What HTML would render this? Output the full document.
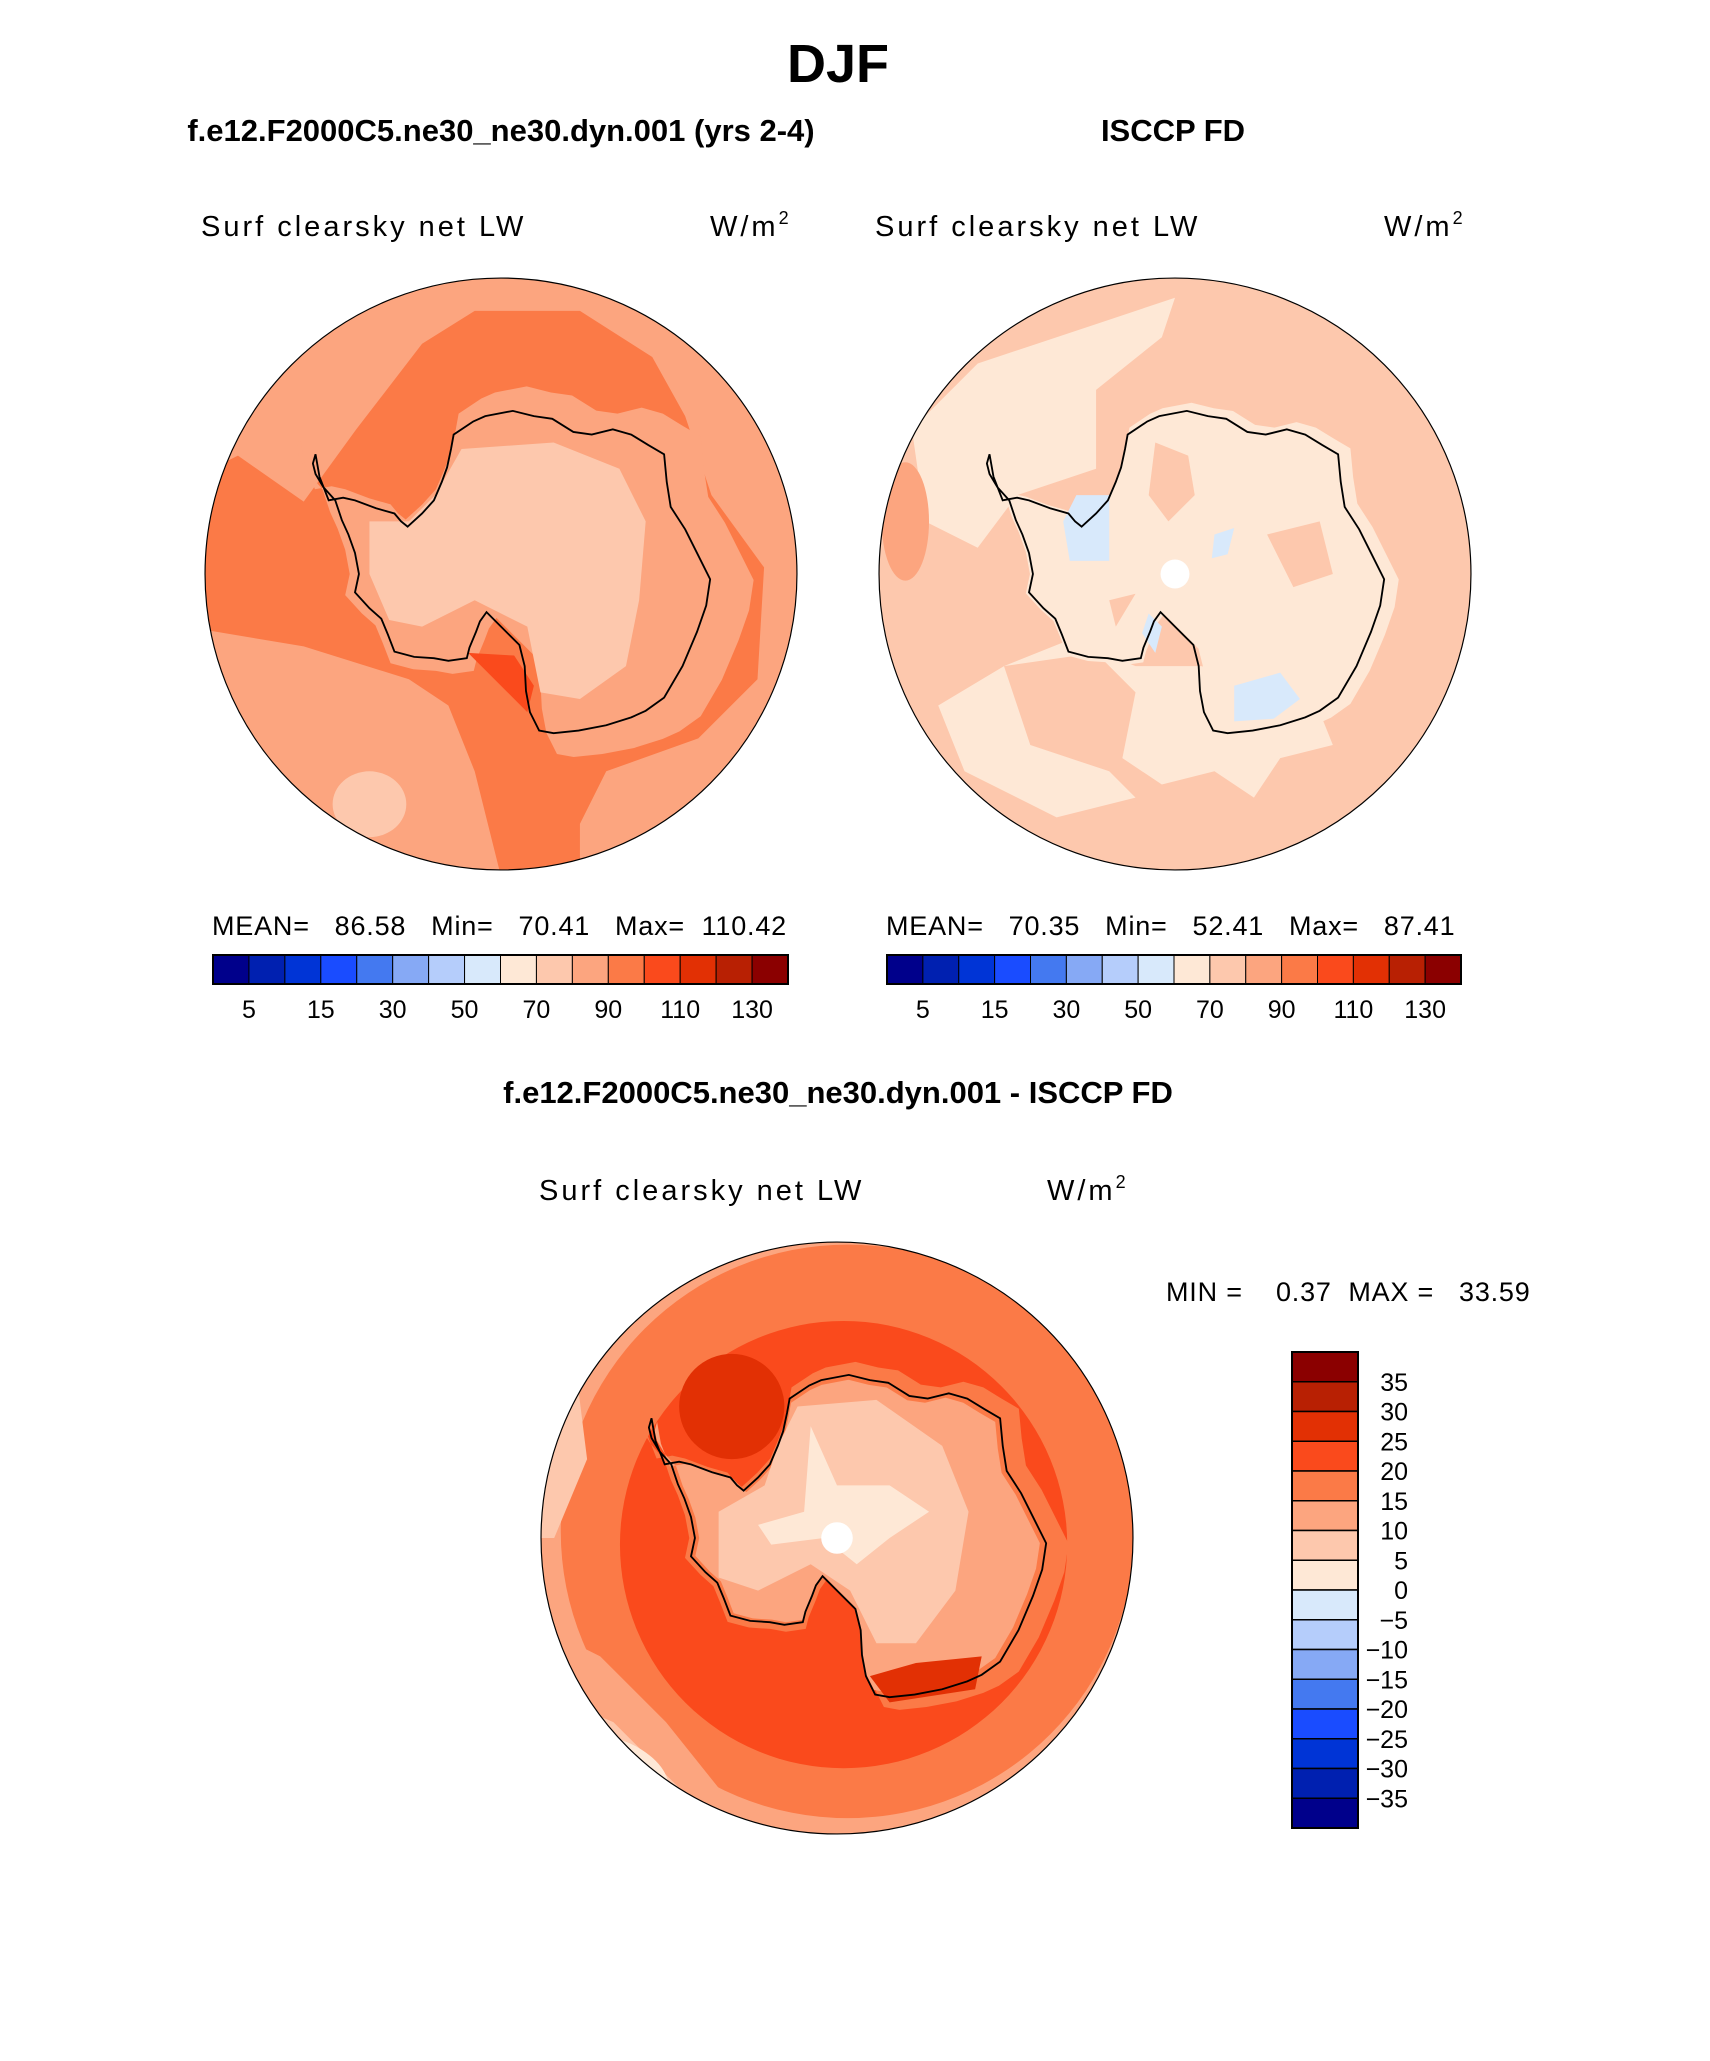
<!DOCTYPE html>
<html><head><meta charset="utf-8">
<style>
html,body{margin:0;padding:0;background:#fff;}
svg{display:block;font-family:"Liberation Sans",sans-serif;}
.t{font-weight:bold;fill:#000;}
.s{font-size:29px;letter-spacing:3px;fill:#000;}
.st{font-size:27px;letter-spacing:0.8px;fill:#000;}
</style></head>
<body>
<svg id="fig" width="1710" height="2061" viewBox="0 0 1710 2061" xmlns="http://www.w3.org/2000/svg">
<defs>
<clipPath id="cc"><circle cx="0" cy="0" r="225"/></clipPath>
<path id="coast" d="M-21,-116 L-12,-120 L9,-124 L25,-120 L39,-118 L55,-108 L69,-106 L85,-110 L99,-106 L112,-98 L124,-91 L126,-70 L129,-51 L140,-34 L149,-16 L159,4 L156,24 L149,44 L138,70 L124,94 L110,104 L99,109 L80,115 L59,119 L40,121 L29,119 L22,105 L19,89 L18,70 L14,54 L0,40 L-11,29 L-16,36 L-19,44 L-24,56 L-26,64 L-40,66 L-51,64 L-66,63 L-81,59 L-86,46 L-91,34 L-100,26 L-111,14 L-108,0 L-111,-16 L-116,-30 L-121,-41 L-126,-56 L-135,-66 L-141,-76 L-143,-84 L-141,-91 L-138,-74 L-131,-56 L-120,-58 L-111,-56 L-95,-50 L-81,-46 L-76,-40 L-71,-36 L-60,-46 L-51,-56 L-45,-70 L-41,-81 L-38,-95 L-36,-106 Z"/>
</defs>

<text class="t" x="838" y="82" font-size="54" text-anchor="middle">DJF</text>
<text class="t" x="501" y="141" font-size="31" text-anchor="middle">f.e12.F2000C5.ne30_ne30.dyn.001 (yrs 2-4)</text>
<text class="t" x="1173" y="141" font-size="31" text-anchor="middle">ISCCP FD</text>
<text class="t" x="838" y="1103" font-size="31" text-anchor="middle">f.e12.F2000C5.ne30_ne30.dyn.001 - ISCCP FD</text>

<text class="s" x="201" y="236">Surf clearsky net LW</text>
<text class="s" x="710" y="236">W/m<tspan font-size="18" dy="-12">2</tspan></text>
<text class="s" x="875" y="236">Surf clearsky net LW</text>
<text class="s" x="1384" y="236">W/m<tspan font-size="18" dy="-12">2</tspan></text>
<text class="s" x="539" y="1200">Surf clearsky net LW</text>
<text class="s" x="1047" y="1200">W/m<tspan font-size="18" dy="-12">2</tspan></text>

<!-- Left map -->
<g transform="translate(501,574) scale(1.3154)">
 <g clip-path="url(#cc)">
  <circle r="225" fill="#fca57f"/>
  <path fill="#fb7a47" d="M-110,-110 L-60,-175 L-20,-200 L60,-200 L115,-165 L140,-120 L160,-60 L200,-5 L195,80 L150,125 L80,150 L60,190 L60,230 L0,230 L-20,150 L-40,100 L-70,80 L-150,55 L-240,40 L-240,-70 L-200,-90 L-150,-55 Z"/>
  <use href="#coast" fill="#fca57f" transform="scale(1.15) translate(8,0)"/>
  <path fill="#fdc8ad" d="M-30,-95 L40,-100 L90,-80 L110,-40 L105,20 L95,70 L60,95 L30,90 L20,40 L-20,20 L-60,40 L-85,35 L-100,0 L-100,-40 L-70,-40 L-50,-60 Z"/>
  <path fill="#fa4a1c" d="M-25,60 L10,62 L25,85 L20,105 L5,90 Z"/>
  <ellipse cx="-100" cy="175" rx="28" ry="25" fill="#fdc8ad"/>
 </g>
 <use href="#coast" fill="none" stroke="#000" stroke-width="1.4"/>
 <circle r="225" fill="none" stroke="#000" stroke-width="0.9"/>
</g>

<!-- Right map -->
<g transform="translate(1175,574) scale(1.3154)">
 <g clip-path="url(#cc)">
  <circle r="225" fill="#fdc8ad"/>
  <path fill="#fee8d6" d="M-200,-110 L-150,-160 L-60,-190 L0,-210 L-10,-180 L-60,-140 L-60,-80 L-120,-60 L-150,-20 L-190,-40 Z"/>
  <path fill="#fee8d6" d="M-130,70 L-60,60 L-30,90 L-40,140 L-10,160 L30,150 L60,170 L80,140 L120,130 L100,80 L60,80 L20,70 L-30,70 L-80,50 Z"/>
  <path fill="#fee8d6" d="M-180,100 L-130,70 L-110,130 L-50,150 L-30,170 L-90,185 L-160,150 Z"/>
  <ellipse cx="-205" cy="-40" rx="18" ry="45" fill="#fca57f"/>
  <use href="#coast" fill="#fee8d6" transform="scale(1.05) translate(3,0)"/>
  <path fill="#fdc8ad" d="M-15,-100 L10,-90 L15,-60 L-5,-40 L-20,-60 Z"/>
  <path fill="#fdc8ad" d="M70,-30 L110,-40 L120,0 L90,10 Z"/>
  <path fill="#fdc8ad" d="M-50,20 L-30,15 L-45,40 Z"/>
  <path fill="#d8e9fb" d="M-75,-60 L-50,-60 L-50,-10 L-80,-10 L-85,-40 Z"/>
  <path fill="#d8e9fb" d="M30,-30 L45,-35 L40,-15 L28,-12 Z"/>
  <path fill="#d8e9fb" d="M45,85 L80,75 L95,95 L75,110 L45,112 Z"/>
  <path fill="#d8e9fb" d="M-20,30 L-10,40 L-15,60 L-25,45 Z"/>
  <circle r="11" fill="#fff"/>
 </g>
 <use href="#coast" fill="none" stroke="#000" stroke-width="1.4"/>
 <circle r="225" fill="none" stroke="#000" stroke-width="0.9"/>
</g>

<!-- Difference map -->
<g transform="translate(837,1538) scale(1.3154)">
 <g clip-path="url(#cc)">
  <circle r="225" fill="#fca57f"/>
  <circle cx="8" cy="-5" r="218" fill="#fb7a47"/>
  <path fill="#fca57f" d="M-240,60 L-180,90 L-130,140 L-90,190 L-60,240 L-240,240 Z"/>
  <path fill="#fdc8ad" d="M-240,110 L-170,140 L-120,190 L-100,240 L-240,240 Z"/>
  <ellipse cx="-160" cy="175" rx="35" ry="18" fill="#fee8d6" transform="rotate(30 -160 175)"/>
  <path fill="#fdc8ad" d="M-240,-120 L-200,-140 L-190,-60 L-215,0 L-240,0 Z"/>
  <circle cx="5" cy="5" r="170" fill="#fa4a1c"/>
  <ellipse cx="-80" cy="-100" rx="40" ry="40" fill="#e23004"/>
  <use href="#coast" fill="#fb7a47" transform="scale(1.08) translate(4,0)"/>
  <use href="#coast" fill="#fca57f" transform="scale(0.97)"/>
  <path fill="#e23004" d="M25,105 L60,95 L110,90 L105,115 L40,125 Z"/>
  <path fill="#fdc8ad" d="M-30,-100 L30,-105 L80,-70 L100,-20 L90,40 L60,80 L30,80 L10,40 L-20,20 L-60,40 L-90,30 L-90,-20 L-55,-40 L-45,-70 Z"/>
  <path fill="#fee8d6" d="M-20,-85 L0,-40 L40,-40 L70,-20 L40,0 L15,20 L-10,0 L-50,5 L-60,-10 L-25,-20 Z"/>
  <circle r="12" fill="#fff"/>
 </g>
 <use href="#coast" fill="none" stroke="#000" stroke-width="1.4"/>
 <circle r="225" fill="none" stroke="#000" stroke-width="0.9"/>
</g>

<text class="st" x="212" y="935" xml:space="preserve">MEAN=   86.58   Min=   70.41   Max=  110.42</text>
<text class="st" x="886" y="935" xml:space="preserve">MEAN=   70.35   Min=   52.41   Max=   87.41</text>
<text class="st" x="1166" y="1301" xml:space="preserve">MIN =    0.37  MAX =   33.59</text>

<g id="cbars"></g>
</svg>
<script>
const colors = ["#00008b","#0020b0","#0034d6","#1a4cff","#4479f0","#86a9f5","#b5cdfb","#d8e9fb","#fee8d6","#fdc8ad","#fca57f","#fb7a47","#fa4a1c","#e23004","#b82003","#8b0000"];
const absLabels = ["5","15","30","50","70","90","110","130"];
const diffLabels = ["35","30","25","20","15","10","5","0","\u22125","\u221210","\u221215","\u221220","\u221225","\u221230","\u221235"];
const NS = "http://www.w3.org/2000/svg";
const root = document.getElementById('cbars');
function mk(tag, attrs){const e=document.createElementNS(NS,tag);for(const k in attrs)e.setAttribute(k,attrs[k]);return e;}
function hbar(x0,x1,y0,y1,name){
  const g=mk('g',{});
  
  
  const w=(x1-x0)/colors.length;
  colors.forEach((c,i)=>{
    const r=mk('rect',{x:x0+i*w,y:y0,width:w,height:y1-y0,fill:c,stroke:'#000','stroke-width':1});
    
    
    g.appendChild(r);
  });
  g.appendChild(mk('rect',{x:x0,y:y0,width:x1-x0,height:y1-y0,fill:'none',stroke:'#000','stroke-width':2}));
  absLabels.forEach((l,i)=>{
    const t=mk('text',{x:x0+(2*i+1)*w,y:y1+34,'text-anchor':'middle','font-size':25,fill:'#000'});
    
    
    t.textContent=l;g.appendChild(t);
  });
  root.appendChild(g);
}
hbar(213,788,955,984,'left-colorbar');
hbar(887,1461,955,984,'right-colorbar');
(function(){
  const x0=1292,x1=1358,y0=1352,y1=1828;
  const g=mk('g',{});
  
  
  const h=(y1-y0)/colors.length;
  const rev=colors.slice().reverse();
  rev.forEach((c,i)=>{
    const r=mk('rect',{x:x0,y:y0+i*h,width:x1-x0,height:h,fill:c,stroke:'#000','stroke-width':1.5});
    
    
    g.appendChild(r);
  });
  g.appendChild(mk('rect',{x:x0,y:y0,width:x1-x0,height:y1-y0,fill:'none',stroke:'#000','stroke-width':2}));
  diffLabels.forEach((l,i)=>{
    const t=mk('text',{x:1408,y:y0+(i+1)*h+9,'text-anchor':'end','font-size':25,fill:'#000'});
    
    
    t.textContent=l;g.appendChild(t);
  });
  root.appendChild(g);
})();
</script>
</body></html>
